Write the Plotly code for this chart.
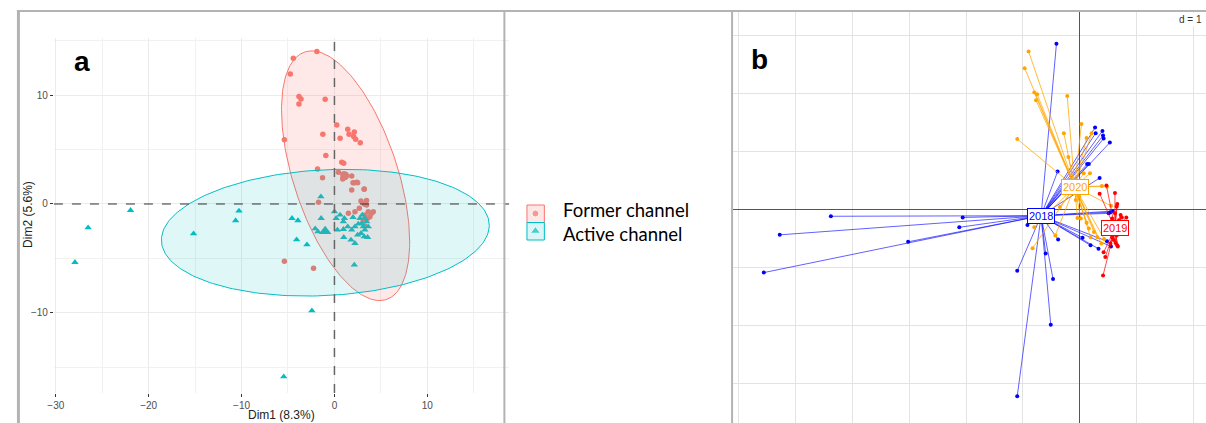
import numpy as np
import plotly.graph_objects as go

# ---------------- Panel a data (PCA individuals) ----------------
former_x = [-1.89, -4.43, -4.75, -3.82, -3.60, -3.82, -1.00, -5.39, -1.25, 0.25, 0.61, 1.43, 1.57, 2.14,
            2.07, 2.28, 2.78, -0.93, 0.79, 1.00, -1.82, 0.43, 0.96, 1.14, 0.89, 1.86, -1.28, 2.14, 2.50,
            1.86, 3.21, -1.71, 2.86, 3.46, 2.68, 3.46, 3.21, -5.39, -2.25, 3.64, 4.00, 3.82, 3.28, 3.57,
            4.18, 3.10, 3.28, 2.21, 1.50, 3.20, 2.00, 2.40]
former_y = [14.02, 13.40, 11.96, 9.88, 9.66, 9.20, 9.63, 5.92, 6.41, 7.27, 6.04, 6.87, 6.41, 6.63,
            6.20, 5.95, 5.64, 4.45, 3.83, 3.74, 3.22, 2.91, 2.76, 2.58, 2.30, 2.58, 2.42, 1.96, 1.96,
            1.29, 1.38, 0.15, 0.28, 0.31, -0.40, -0.09, 0.00, -5.28, -5.92, -0.71, -0.86, -1.17, -1.01,
            -1.32, -0.71, -1.47, -2.02, -0.71, -0.86, 1.35, 1.95, 2.00]
active_x = [-27.94, -26.52, -21.95, -15.17, -10.28, -10.64, -4.57, -3.93, -4.07, -2.96, -1.46, -1.43,
            -2.07, -1.78, -5.46, -2.43, 2.14, 0.00, 0.18, 0.61, 1.07, 0.96, 0.32, 0.96, 1.43, 1.00,
            1.78, 2.21, 2.00, 2.75, 2.93, 2.57, 3.10, 3.28, 2.86, 3.21, 3.57, 2.50, 3.46, 3.64, 3.28,
            1.86, 2.21, 3.00]
active_y = [-5.37, -2.18, -0.58, -2.73, -0.64, -1.53, -1.32, -1.53, -3.28, -3.74, 0.67, -1.32,
            -2.27, -2.55, -15.89, -9.82, -5.61, -0.71, -1.32, -1.01, -1.32, -1.63, -2.39, -2.33, -2.09,
            -3.07, -3.31, -3.62, -1.23, -1.32, -1.78, -1.84, -2.09, -2.39, -2.70, -3.01, -3.07, -2.85,
            -1.63, -2.09, -1.32, -2.39, -2.09, -1.01]
group_names = ["Former channel", "Active channel"]
group_mean_x = [1.1, -1.0]
group_mean_y = [2.6, -2.5]
# ellipse parameters: centre and covariance-like matrix entries (xx, yy, xy)
ell_cx = [1.2, -0.98]
ell_cy = [2.6, -2.64]
ell_xx = [47.6, 311.5]
ell_yy = [132.0, 34.0]
ell_xy = [-42.0, 12.0]
x_ticks_a = [-30, -20, -10, 0, 10]
y_ticks_a = [-10, 0, 10]

# ---------------- Panel b data (s.class) ----------------
y2018_x = [-0.41, -4.38, -5.28, -5.56, -2.06, -2.12, -3.02, -1.10, -0.51, -0.47, -1.10, -0.60, -0.92,
           -0.38, -0.39, 0.27, 0.40, 0.28, 0.41, 0.42, 0.53, 0.16, 0.13, 0.35, 0.05, 0.19, 0.33, 0.48,
           0.55, 0.54, 0.58, 0.51]
y2018_y = [2.85, -0.12, -0.44, -1.09, -0.14, -0.31, -0.56, -3.22, -1.99, -1.20, -1.06, -0.76, -0.27,
           -0.52, 0.65, 1.41, 1.35, 1.31, 1.27, 1.22, 1.15, 0.78, 0.78, 0.54, -0.49, -0.62, -0.68, -0.55,
           -0.64, -0.05, -0.03, -0.07]
y2019_x = [0.47, 0.35, 0.62, 0.66, 0.41, 0.42, 0.74, 0.82, 0.66, 0.57, 0.60, 0.63, 0.67, 0.54, 0.59,
           0.65, 0.69, 0.72, 0.57, 0.62, 0.65, 0.45]
y2019_y = [0.41, 0.27, 0.28, 0.09, -1.14, -0.74, -0.14, -0.14, -0.62, -0.48, -0.53, -0.58, -0.64,
           -0.59, -0.42, -0.45, -0.19, -0.10, -0.16, -0.07, 0.05, -0.82]
y2020_x = [-0.90, -0.97, -0.80, -0.75, -0.77, -0.22, -1.10, 0.03, -0.28, 0.12, 0.21, -0.20, 0.07, 0.18,
           0.39, 0.55, -0.83, -0.80, -0.43, -0.35, -0.04, 0.02, 0.16, 0.19, 0.31, 0.25, 0.38, 0.12,
           -0.01, -0.07, 0.48, 0.43]
y2020_y = [2.72, 2.43, 2.01, 1.98, 1.88, 1.95, 1.21, 1.47, 1.31, 1.23, 1.31, 0.90, 0.62, 0.62, 0.40,
           0.06, -0.67, -0.31, -0.45, 0.04, -0.15, -0.16, -0.33, -0.48, -0.48, -0.39, -0.59, -0.23,
           0.22, 0.16, 0.39, -0.51]
class_labels = ["2018", "2019", "2020"]
class_cx = [-0.68, 0.62, -0.09]
class_cy = [-0.11, -0.33, 0.39]

# ---------------- styles ----------------
RED, CYAN = "#F8766D", "#00BFC4"
class_colors = ["#0000FF", "#FF0000", "#FFA500"]
class_line_colors = ["rgba(0,0,255,0.62)", "rgba(255,0,0,0.7)", "rgba(255,165,0,0.75)"]
W, H = 1206, 423

fig = go.Figure()

# Panel a points
fig.add_trace(go.Scatter(x=former_x, y=former_y, mode="markers", xaxis="x", yaxis="y",
                         marker=dict(symbol="circle", size=5.5, color=RED), showlegend=False))
fig.add_trace(go.Scatter(x=active_x, y=active_y, mode="markers", xaxis="x", yaxis="y",
                         marker=dict(symbol="triangle-up", size=6.5, color=CYAN), showlegend=False))
fig.add_trace(go.Scatter(x=[group_mean_x[0]], y=[group_mean_y[0]], mode="markers", xaxis="x", yaxis="y",
                         marker=dict(symbol="circle", size=9, color=RED), showlegend=False))
fig.add_trace(go.Scatter(x=[group_mean_x[1]], y=[group_mean_y[1]], mode="markers", xaxis="x", yaxis="y",
                         marker=dict(symbol="triangle-up", size=11, color=CYAN), showlegend=False))

# Panel a ellipses
t = np.linspace(0, 2 * np.pi, 241)
for i, col in enumerate([RED, CYAN]):
    M = np.array([[ell_xx[i], ell_xy[i]], [ell_xy[i], ell_yy[i]]])
    L = np.linalg.cholesky(M)
    pts = L @ np.vstack([np.cos(t), np.sin(t)])
    fig.add_trace(go.Scatter(x=ell_cx[i] + pts[0], y=ell_cy[i] + pts[1], mode="lines",
                             xaxis="x", yaxis="y", fill="toself",
                             fillcolor=("rgba(248,118,109,0.16)" if i == 0 else "rgba(0,191,196,0.12)"),
                             line=dict(color=col, width=1), showlegend=False, hoverinfo="skip"))

# Panel b stars
for cx_list, cy_list, k in [(y2018_x, y2018_y, 0), (y2020_x, y2020_y, 2), (y2019_x, y2019_y, 1)]:
    lx, ly = [], []
    for px, py in zip(cx_list, cy_list):
        lx += [px, class_cx[k], None]
        ly += [py, class_cy[k], None]
    fig.add_trace(go.Scatter(x=lx, y=ly, mode="lines", xaxis="x2", yaxis="y2",
                             line=dict(color=class_line_colors[k], width=1),
                             showlegend=False, hoverinfo="skip"))
    fig.add_trace(go.Scatter(x=cx_list, y=cy_list, mode="markers", xaxis="x2", yaxis="y2",
                             marker=dict(size=4, color=class_colors[k]), showlegend=False))

# Legend markers (overlay pixel axis)
fig.add_trace(go.Scatter(x=[531.5, 531.5], y=[213.5, 231], mode="markers", xaxis="x3", yaxis="y3",
                         marker=dict(symbol=["circle", "triangle-up"], size=[7, 9], color=[RED, CYAN]),
                         showlegend=False, hoverinfo="skip"))

axis_a_common = dict(showgrid=True, gridcolor="#ebebeb", gridwidth=1, zeroline=False, showline=False,
                     ticks="outside", ticklen=3, tickcolor="#333333", tickwidth=1,
                     tickfont=dict(family="Liberation Sans, Arial", size=10, color="#4d4d4d"))

fig.update_layout(
    width=W, height=H, margin=dict(l=0, r=0, t=0, b=0),
    paper_bgcolor="white", plot_bgcolor="rgba(0,0,0,0)",
    xaxis=dict(domain=[47.2 / W, 505 / W], range=[-30.2, 18.8], tickvals=x_ticks_a,
               minor=dict(tickvals=[-25, -15, -5, 5, 15], showgrid=True, gridcolor="#f1f1f1", ticks=""),
               anchor="y", **axis_a_common),
    yaxis=dict(domain=[1 - 393.1 / H, 1 - 37.7 / H], range=[-17.4, 15.3], tickvals=y_ticks_a,
               minor=dict(tickvals=[-15, -5, 5, 15], showgrid=True, gridcolor="#f1f1f1", ticks=""),
               anchor="x", **axis_a_common),
    xaxis2=dict(domain=[729 / W, 1.0], range=[-6.124, 2.222], tick0=0, dtick=1, showgrid=True,
                gridcolor="#e3e3e3", gridwidth=1, zeroline=True, zerolinecolor="#555555", zerolinewidth=1,
                showticklabels=False, ticks="", showline=False, anchor="y2"),
    yaxis2=dict(domain=[0.0, 1 - 11 / H], range=[-3.681, 3.416], tick0=0, dtick=1, showgrid=True,
                gridcolor="#e3e3e3", gridwidth=1, zeroline=True, zerolinecolor="#555555", zerolinewidth=1,
                showticklabels=False, ticks="", showline=False, anchor="x2"),
    xaxis3=dict(domain=[0, 1], range=[0, W], visible=False, anchor="y3", fixedrange=True),
    yaxis3=dict(domain=[0, 1], range=[H, 0], visible=False, anchor="x3", fixedrange=True),
)

shapes = [
    # zero reference lines in panel a
    dict(type="line", xref="x", yref="y domain", x0=0, x1=0, y0=0, y1=1, layer="above",
         line=dict(color="#666666", width=1.5, dash="dash")),
    dict(type="line", xref="x domain", yref="y", x0=0, x1=1, y0=0, y1=0, layer="above",
         line=dict(color="#333333", width=1, dash="dash")),
    # legend keys
    dict(type="rect", xref="x3", yref="y3", x0=523, x1=540.5, y0=205, y1=222.5, layer="below",
         fillcolor="rgba(248,118,109,0.18)", line=dict(color=RED, width=1)),
    dict(type="rect", xref="x3", yref="y3", x0=523, x1=540.5, y0=222.5, y1=240, layer="below",
         fillcolor="rgba(0,191,196,0.15)", line=dict(color=CYAN, width=1)),
    # composite frame
    dict(type="line", xref="x3", yref="y3", x0=10, x1=W, y0=11, y1=11, layer="above",
         line=dict(color="#b3b3b3", width=2)),
    dict(type="line", xref="x3", yref="y3", x0=11.5, x1=11.5, y0=10, y1=H, layer="above",
         line=dict(color="#b3b3b3", width=3)),
    dict(type="line", xref="x3", yref="y3", x0=500.3, x1=500.3, y0=11, y1=H, layer="above",
         line=dict(color="#b3b3b3", width=2)),
    dict(type="line", xref="x3", yref="y3", x0=729.3, x1=729.3, y0=11, y1=H, layer="above",
         line=dict(color="#b3b3b3", width=2)),
]

annotations = [
    dict(text="Dim1 (8.3%)", xref="x3", yref="y3", x=276, y=415, showarrow=False,
         font=dict(family="Liberation Sans, Arial", size=12, color="#222222"), xanchor="center", yanchor="middle"),
    dict(text="Dim2 (5.6%)", xref="x3", yref="y3", x=21, y=214, showarrow=False, textangle=-90,
         font=dict(family="Liberation Sans, Arial", size=12, color="#222222"), xanchor="center", yanchor="middle"),
    dict(text="<b>a</b>", xref="x3", yref="y3", x=75, y=61, showarrow=False,
         font=dict(family="Liberation Sans, Arial", size=28, color="black"), xanchor="center", yanchor="middle"),
    dict(text="<b>b</b>", xref="x3", yref="y3", x=757, y=59, showarrow=False,
         font=dict(family="Liberation Sans, Arial", size=28, color="black"), xanchor="center", yanchor="middle"),
    dict(text=group_names[0], xref="x3", yref="y3", x=557, y=210, showarrow=False,
         font=dict(family="Lato", size=18.5, color="black"), xanchor="left", yanchor="middle"),
    dict(text=group_names[1], xref="x3", yref="y3", x=557, y=234, showarrow=False,
         font=dict(family="Lato", size=18.5, color="black"), xanchor="left", yanchor="middle"),
    dict(text="d = 1", xref="x3", yref="y3", x=1204, y=19, showarrow=False, bgcolor="white",
         font=dict(family="Liberation Sans, Arial", size=10, color="#333333"), xanchor="right", yanchor="middle"),
]
for k, lab in enumerate(class_labels):
    annotations.append(dict(text=lab, xref="x2", yref="y2", x=class_cx[k], y=class_cy[k], showarrow=False,
                            bgcolor="white", bordercolor=class_colors[k], borderwidth=1, borderpad=1,
                            font=dict(family="Liberation Sans, Arial", size=11, color=class_colors[k]),
                            xanchor="center", yanchor="middle"))

fig.update_layout(shapes=shapes, annotations=annotations)
fig.write_html("out.html", config={"displayModeBar": False},
               post_script="document.body.style.margin='0';document.body.style.overflow='hidden';")
